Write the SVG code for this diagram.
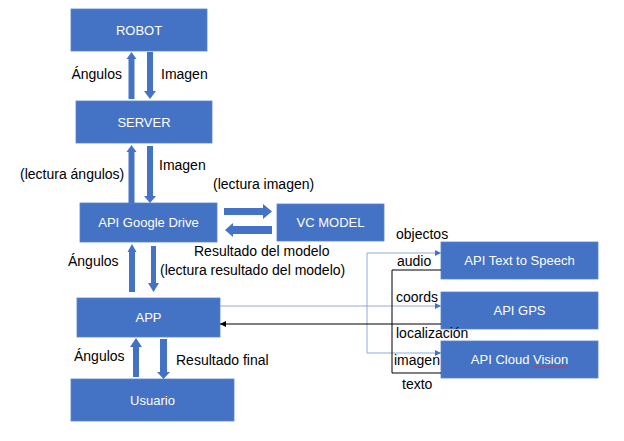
<svg xmlns="http://www.w3.org/2000/svg" width="624" height="441" viewBox="0 0 624 441">
<style>
.box{fill:#4472C4;stroke:#5a84cc;stroke-width:0.8}
.bt{font-family:"Liberation Sans",Arial,sans-serif;font-size:13px;fill:#ffffff;text-anchor:middle}
.lb{font-family:"Liberation Sans",Arial,sans-serif;font-size:14px;fill:#000000}
.ba{fill:#4472C4}
.bl{fill:none;stroke:#8eaadc;stroke-width:1}
.kl{fill:none;stroke:#000000;stroke-width:1}
</style>
<defs>
<marker id="ab" viewBox="0 0 10 10" refX="10" refY="5" markerWidth="6" markerHeight="6" orient="auto" markerUnits="userSpaceOnUse">
<path d="M0,0 L10,5 L0,10 z" fill="#4472C4"/>
</marker>
<marker id="ak" viewBox="0 0 10 10" refX="10" refY="5" markerWidth="6" markerHeight="6" orient="auto" markerUnits="userSpaceOnUse">
<path d="M0,0 L10,5 L0,10 z" fill="#000000"/>
</marker>
</defs>

<g id="robot"><rect class="box" x="71" y="9" width="136" height="42"/><text class="bt" x="139" y="34.5">ROBOT</text></g>
<g id="server"><rect class="box" x="76" y="101" width="136" height="42"/><text class="bt" x="144" y="126.5">SERVER</text></g>
<g id="drive"><rect class="box" x="80" y="203" width="137" height="39"/><text class="bt" x="148.5" y="227">API Google Drive</text></g>
<g id="vcmodel"><rect class="box" x="277" y="204" width="107" height="37"/><text class="bt" x="330.5" y="227">VC MODEL</text></g>
<g id="app"><rect class="box" x="77" y="298" width="143" height="39"/><text class="bt" x="148.5" y="322">APP</text></g>
<g id="usuario"><rect class="box" x="71" y="379" width="163" height="42"/><text class="bt" x="152.5" y="404.5">Usuario</text></g>
<g id="tts"><rect class="box" x="441" y="242" width="157" height="37"/><text class="bt" x="519.5" y="265">API Text to Speech</text></g>
<g id="gps"><rect class="box" x="441" y="292" width="157" height="37"/><text class="bt" x="519.5" y="315">API GPS</text></g>
<g id="vision"><rect class="box" x="441" y="341" width="157" height="37"/><text class="bt" x="519.5" y="364">API Cloud Vision</text>
<path d="M532,367.5 l1.5,-1 l1.5,1 l1.5,-1 l1.5,1 l1.5,-1 l1.5,1 l1.5,-1 l1.5,1 l1.5,-1 l1.5,1 l1.5,-1 l1.5,1 l1.5,-1 l1.5,1 l1.5,-1 l1.5,1 l1.5,-1 l1.5,1 l1.5,-1 l1.5,1 l1.5,-1 l1.5,1 l1.5,-1 l1.5,1" fill="none" stroke="#e03030" stroke-width="0.8"/></g>

<g id="connectors">
<!-- ROBOT / SERVER -->
<polygon class="ba" points="131.5,52 136.5,59 134.5,59 134.5,99 128.5,99 128.5,59 126.5,59"/>
<polygon class="ba" points="147,52 153,52 153,91 156,91 150,99 144,91 147,91"/>
<!-- SERVER / Drive -->
<polygon class="ba" points="131.5,145 136.5,152 134.5,152 134.5,203 128.5,203 128.5,152 126.5,152"/>
<polygon class="ba" points="147,146 153,146 153,196 156,196 150,203 144,196 147,196"/>
<!-- Drive / VC -->
<polygon class="ba" points="224,208 263,208 263,204 272,211.5 263,219 263,215 224,215"/>
<polygon class="ba" points="272,226 233,226 233,223 225,230 233,237 233,234 272,234"/>
<!-- Drive / APP -->
<polygon class="ba" points="132,244 136.5,252 135,252 135,292 129,292 129,252 127.5,252"/>
<polygon class="ba" points="151,246 156,246 156,283 159,283 153.5,292 148,283 151,283"/>
<!-- APP / Usuario -->
<polygon class="ba" points="136,338 142,347 139,347 139,377 133,377 133,347 130,347"/>
<polygon class="ba" points="160,339 167,339 167,372 170,372 163.5,379 157,372 160,372"/>
<!-- APP to APIs (blue) -->
<path class="bl" d="M220,306 H441" marker-end="url(#ab)"/>
<path class="bl" d="M367,253 V353"/>
<path class="bl" d="M367,253 H441" marker-end="url(#ab)"/>
<path class="bl" d="M367,353 H441" marker-end="url(#ab)"/>
<!-- APIs to APP (black) -->
<path class="kl" d="M441,270 H392 V373 H441"/>
<path class="kl" d="M441,324 H220" marker-end="url(#ak)"/>
</g>

<g id="labels">
<text class="lb" x="122" y="79" text-anchor="end">Ángulos</text>
<text class="lb" x="161" y="79">Imagen</text>
<text class="lb" x="20" y="179">(lectura ángulos)</text>
<text class="lb" x="159" y="170">Imagen</text>
<text class="lb" x="213" y="189">(lectura imagen)</text>
<text class="lb" x="194" y="256">Resultado del modelo</text>
<text class="lb" x="160" y="275">(lectura resultado del modelo)</text>
<text class="lb" x="68" y="266">Ángulos</text>
<text class="lb" x="74" y="361">Ángulos</text>
<text class="lb" x="176" y="365">Resultado final</text>
<text class="lb" x="396" y="239">objectos</text>
<text class="lb" x="397" y="266">audio</text>
<text class="lb" x="396" y="302">coords</text>
<text class="lb" x="396" y="338">localización</text>
<text class="lb" x="394" y="365">imagen</text>
<text class="lb" x="402" y="389">texto</text>
</g>
</svg>
